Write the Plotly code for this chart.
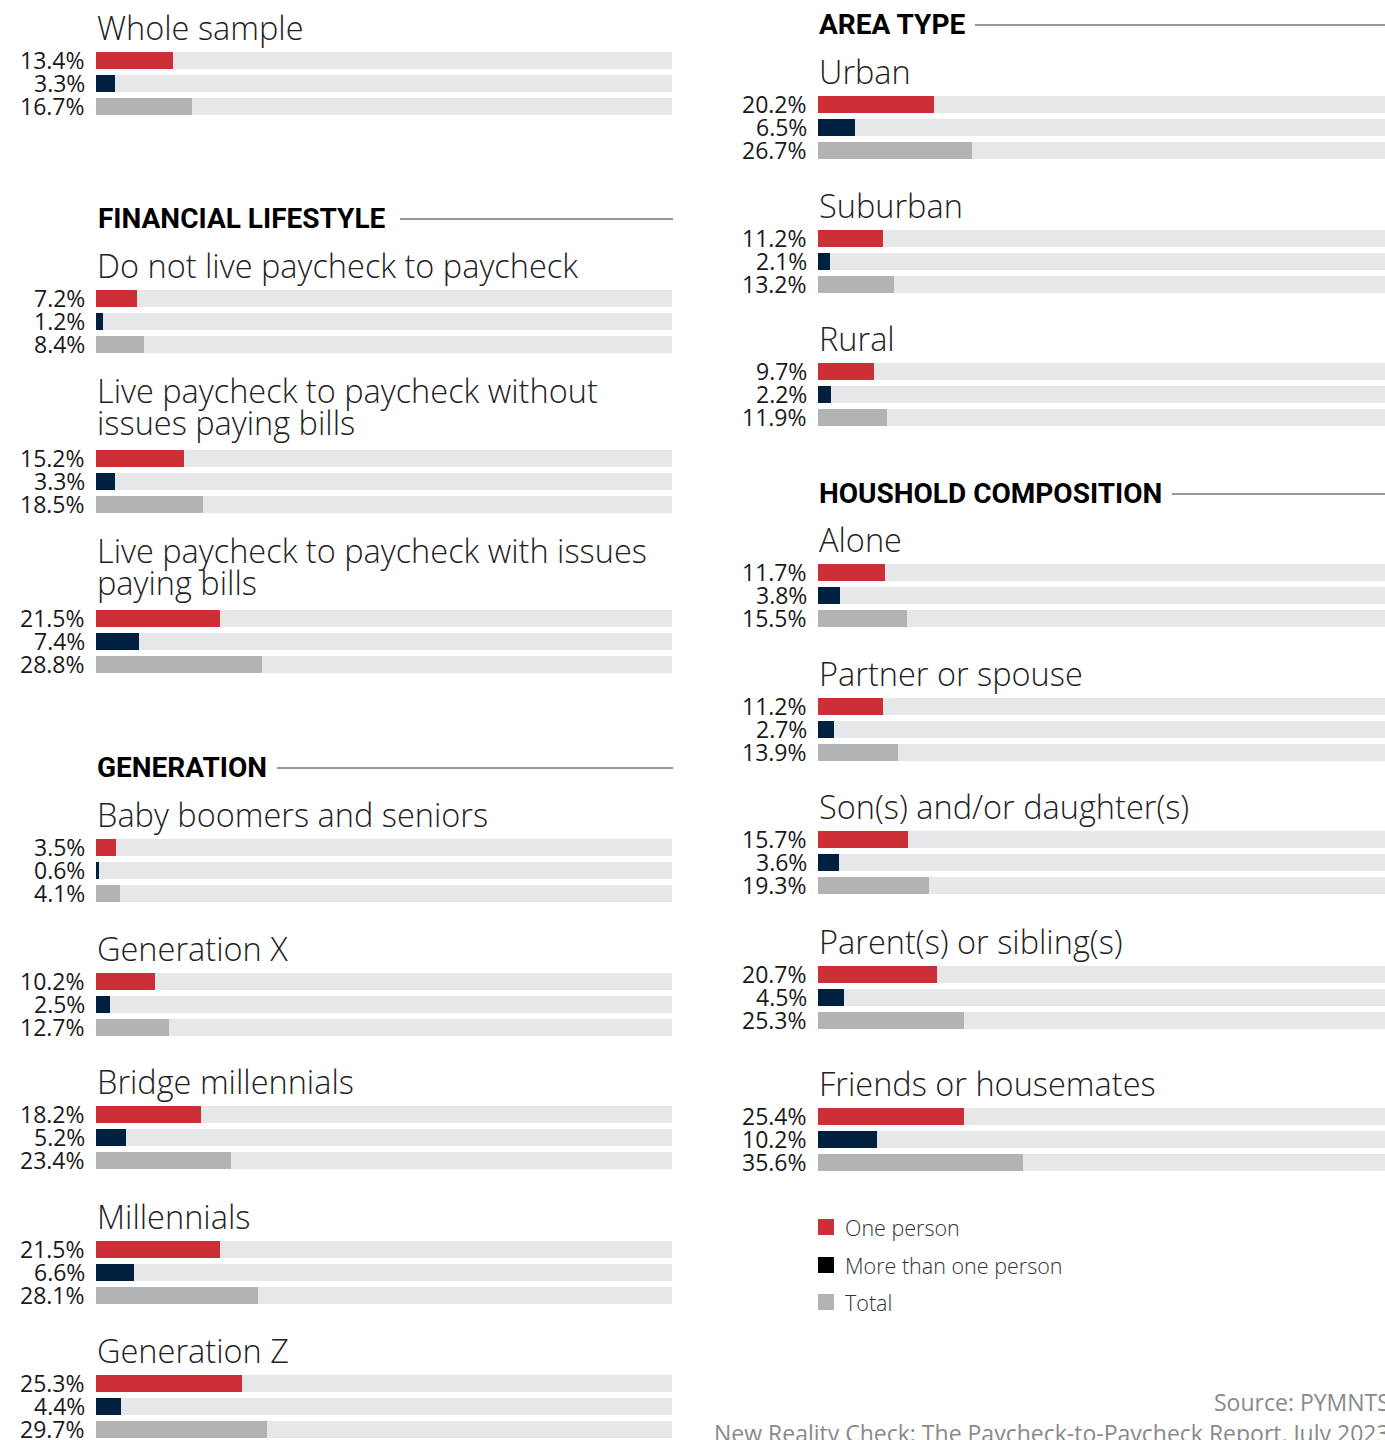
import plotly.graph_objects as go

W, H = 1385, 1440
OFF = 0  # body margin removed via post_script

# ---------------- data ----------------
series_names = ["One person", "More than one person", "Total"]

ws_cat = ["Whole sample"]
ws_one = [13.4]
ws_more = [3.3]
ws_total = [16.7]

fin_cat = ["Do not live paycheck to paycheck",
           "Live paycheck to paycheck without<br>issues paying bills",
           "Live paycheck to paycheck with issues<br>paying bills"]
fin_one = [7.2, 15.2, 21.5]
fin_more = [1.2, 3.3, 7.4]
fin_total = [8.4, 18.5, 28.8]

gen_cat = ["Baby boomers and seniors", "Generation X", "Bridge millennials",
           "Millennials", "Generation Z"]
gen_one = [3.5, 10.2, 18.2, 21.5, 25.3]
gen_more = [0.6, 2.5, 5.2, 6.6, 4.4]
gen_total = [4.1, 12.7, 23.4, 28.1, 29.7]

area_cat = ["Urban", "Suburban", "Rural"]
area_one = [20.2, 11.2, 9.7]
area_more = [6.5, 2.1, 2.2]
area_total = [26.7, 13.2, 11.9]

hh_cat = ["Alone", "Partner or spouse", "Son(s) and/or daughter(s)",
          "Parent(s) or sibling(s)", "Friends or housemates"]
hh_one = [11.7, 11.2, 15.7, 20.7, 25.4]
hh_more = [3.8, 2.7, 3.6, 4.5, 10.2]
hh_total = [15.5, 13.9, 19.3, 25.3, 35.6]

section_titles = ["FINANCIAL LIFESTYLE", "GENERATION", "AREA TYPE", "HOUSHOLD COMPOSITION"]
source_lines = ["Source: PYMNTS",
                "New Reality Check: The Paycheck-to-Paycheck Report, July 2023"]

# ---------------- layout (pixel positions in the page) ----------------
ws_y = [60]
fin_y = [298, 458, 618]
gen_y = [847, 981, 1114, 1249, 1383]
area_y = [104, 238, 371]
hh_y = [572, 706, 839, 974, 1116]
BAR_STEP = 23
BAR_H = 17

COLORS = ["#CC2F36", "#00203F", "#B1B3B5"]
TRACK = "#E6E7E8"
LEGEND_COLORS = ["#CC2F36", "#000000", "#B1B3B5"]

LABEL_FONT = dict(family="Open Sans", size=23, color="#1a1a1a")
TITLE_FONT = dict(family="Open Sans", size=32.5, color="#222222", weight=300)
HEAD_FONT = dict(family="Roboto", size=28, color="#000000", weight=700)


def px(x):
    return (x - OFF) / W


def py(y):
    return 1 - (y - OFF) / H


fig = go.Figure()
annotations = []
shapes = []

groups = [
    ("x3", "y", ws_cat, ws_one, ws_more, ws_total, ws_y),
    ("x", "y", fin_cat, fin_one, fin_more, fin_total, fin_y),
    ("x", "y", gen_cat, gen_one, gen_more, gen_total, gen_y),
    ("x2", "y2", area_cat, area_one, area_more, area_total, area_y),
    ("x2", "y2", hh_cat, hh_one, hh_more, hh_total, hh_y),
]

for xa, ya, cats, one, more, tot, ys in groups:
    vals = [one, more, tot]
    ty = [y0 + k * BAR_STEP for y0 in ys for k in range(3)]
    fig.add_trace(go.Bar(x=[100] * len(ty), y=ty, orientation="h", width=BAR_H,
                         marker=dict(color=TRACK, line=dict(width=0)),
                         xaxis=xa, yaxis=ya, showlegend=False, hoverinfo="skip"))
    for k in range(3):
        yy = [y0 + k * BAR_STEP for y0 in ys]
        fig.add_trace(go.Bar(x=vals[k], y=yy, orientation="h", width=BAR_H,
                             marker=dict(color=COLORS[k], line=dict(width=0)),
                             name=series_names[k], xaxis=xa, yaxis=ya,
                             showlegend=False))
        for v, yv in zip(vals[k], yy):
            annotations.append(dict(x=0, y=yv, xref=xa, yref=ya, text=f"{v:.1f}%",
                                    showarrow=False, xanchor="right", yanchor="middle",
                                    xshift=-9, font=LABEL_FONT))
    for c, y0 in zip(cats, ys):
        lines = c.split("<br>")
        n = len(lines)
        last = y0 - (33 if n == 1 else 36)
        for i, ln in enumerate(lines):
            annotations.append(dict(x=0, y=last - (n - 1 - i) * 32, xref=xa, yref=ya,
                                    text=ln, showarrow=False, xanchor="left",
                                    yanchor="middle", xshift=-1, font=TITLE_FONT))

# section headers with rules
headers = [
    (section_titles[0], 96, 218, 400, 673),
    (section_titles[1], 95, 767, 277, 673),
    (section_titles[2], 817, 24, 975, 1385),
    (section_titles[3], 817, 493, 1172, 1385),
]
for txt, hx, hy, lx0, lx1 in headers:
    annotations.append(dict(x=px(hx), y=py(hy), xref="paper", yref="paper", text=txt,
                            showarrow=False, xanchor="left", yanchor="middle",
                            font=HEAD_FONT))
    shapes.append(dict(type="line", xref="paper", yref="paper", x0=px(lx0), x1=px(lx1),
                       y0=py(hy + 1), y1=py(hy + 1),
                       line=dict(color="#333333", width=1)))

# legend
leg_y = [1227, 1265, 1302]
for name, col, ly in zip(series_names, LEGEND_COLORS, leg_y):
    shapes.append(dict(type="rect", xref="paper", yref="paper", x0=px(818), x1=px(834),
                       y0=py(ly + 8), y1=py(ly - 8),
                       fillcolor=col, line=dict(width=0)))
    annotations.append(dict(x=px(843), y=py(ly), xref="paper", yref="paper", text=name,
                            showarrow=False, xanchor="left", yanchor="middle",
                            font=dict(family="Open Sans", size=21.5, color="#333333", weight=300)))

# source (runs past the right edge, as in the original)
SRC_FONT = dict(family="Open Sans", size=23, color="#8a8a8a")
annotations.append(dict(x=px(1392), y=py(1402), xref="paper", yref="paper",
                        text=source_lines[0], showarrow=False, xanchor="right",
                        yanchor="middle", font=SRC_FONT))
annotations.append(dict(x=px(1392), y=py(1433), xref="paper", yref="paper",
                        text=source_lines[1], showarrow=False, xanchor="right",
                        yanchor="middle", font=SRC_FONT))

axis_common = dict(showgrid=False, zeroline=False, showticklabels=False, showline=False,
                   fixedrange=True)
fig.update_layout(
    width=W, height=H,
    margin=dict(l=0, r=0, t=0, b=0),
    paper_bgcolor="white", plot_bgcolor="white",
    barmode="overlay", bargap=0,
    showlegend=False,
    xaxis=dict(domain=[px(96), px(672)], range=[0, 100], anchor="y", **axis_common),
    xaxis3=dict(domain=[px(99), px(675)], range=[0, 100], anchor="y", overlaying="x", **axis_common),
    xaxis2=dict(domain=[px(818), 1.0], range=[0, 100 * (W + OFF - 818) / 576], anchor="y2",
                **axis_common),
    yaxis=dict(domain=[0, 1], range=[H + OFF, OFF], anchor="x", **axis_common),
    yaxis2=dict(domain=[0, 1], range=[H + OFF, OFF], anchor="x2", **axis_common),
    annotations=annotations,
    shapes=shapes,
)

fig.write_html("out.html",
               config={"displayModeBar": False},
               post_script="document.body.style.margin='0';document.body.style.overflow='hidden';")
